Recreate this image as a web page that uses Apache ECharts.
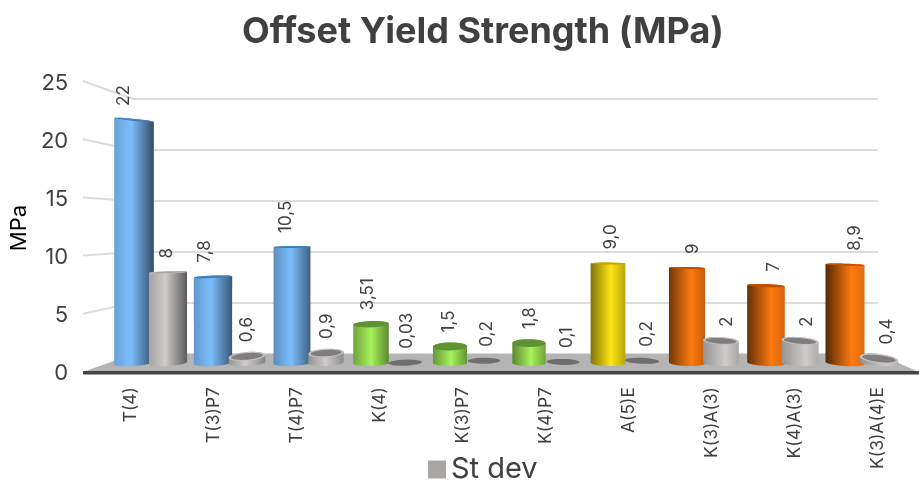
<!DOCTYPE html>
<html><head><meta charset="utf-8">
<style>html,body{margin:0;padding:0;background:#fff}#c{width:919px;height:484px}</style>
<script src="https://cdn.jsdelivr.net/npm/echarts@6/dist/echarts.min.js"></script>
</head><body><div id="c"></div>
<script>
const categories = ['T(4)','T(3)P7','T(4)P7','K(4)','K(3)P7','K(4)P7','A(5)E','K(3)A(3)','K(4)A(3)','K(3)A(4)E'];
const strengthValues = [22, 7.8, 10.5, 3.51, 1.5, 1.8, 9.0, 8.6, 7, 8.9];
const strengthLabels = ['22','7,8','10,5','3,51','1,5','1,8','9,0','9','7','8,9'];
const stdevValues = [8.2, 0.6, 0.9, 0.03, 0.2, 0.1, 0.2, 2, 2, 0.4];
const stdevLabels = ['8','0,6','0,9','0,03','0,2','0,1','0,2','2','2','0,4'];
const yTicks = [0, 5, 10, 15, 20, 25];

const families = ['blue','blue','blue','green','green','green','yellow','orange','orange','orange'];
const bright = {blue:'#7cbfff',green:'#a8f25a',yellow:'#ffe614',orange:'#ff7a0f',gray:'#cfcbcb'};
const capColor = {blue:'#3f7fb8',green:'#5e9233',yellow:'#c9a200',orange:'#c24e00',gray:'#c4c0c0'};
const FONT = 'Inter';
const INK = '#404040';

function shade(hex, f){
  const n = parseInt(hex.slice(1),16);
  const c = s => Math.round(((n>>s)&255)*f);
  return `rgb(${c(16)},${c(8)},${c(0)})`;
}
function ell(cx, cy, a, b, tau, t0, t1, n){
  const pts = [];
  for(let i=0;i<=n;i++){
    const t = t0+(t1-t0)*i/n;
    pts.push([cx+a*Math.cos(t)*Math.cos(tau)-b*Math.sin(t)*Math.sin(tau),
              cy+a*Math.cos(t)*Math.sin(tau)+b*Math.sin(t)*Math.cos(tau)]);
  }
  return pts;
}
function cylinder(labels, fam, shift, isGray){
  return function(params, api){
    const i = api.value(0), v = api.value(1);
    const top = api.coord([i, v]), base = api.coord([i, 0]);
    const cx = top[0]+shift, yt = top[1], yb = base[1];
    const hw = 16+Math.abs(cx-510)*0.009+(isGray?0:0.5);
    const t = Math.min(1,Math.max(0,(cx-134)/747));
    const h = 0.42+t*0.26;
    const col = bright[fam(i)];
    const tilt = y => (cx-510)*(y-230)*1.4e-4*Math.PI/180;
    const ry = Math.max(1,1+(yt-270)*0.039);
    const tt = tilt(yt), tb = tilt(yb)*0.6;
    const children = [];
    const body = ell(cx,yt,hw,ry,tt,Math.PI,2*Math.PI,14).concat(ell(cx,yb,hw,3,tb,0,Math.PI,20));
    const tiny = v<=0.25;
    const leftEdge = isGray ? (v>5 ? 0.8 : 0.72) : 0.85-0.55*t;
    const rightEdge = isGray ? (v>5 ? 0.45 : 0.62+0.25*t) : 0.4+0.5*t;
    if(!tiny){
      children.push({type:'polygon',shape:{points:body},style:{fill:{type:'linear',x:0,y:0,x2:1,y2:0,colorStops:[
        {offset:0,color:shade(col,leftEdge)},
        {offset:h,color:col},
        {offset:1,color:shade(col,rightEdge)}]}}});
    }
    const cap = capColor[fam(i)];
    if(isGray){
      if(tiny){
        children.push({type:'polygon',shape:{points:ell(cx,yt,hw,3,tt,0,2*Math.PI,32)},style:{fill:'#6f6d6d'}});
      }else{
        children.push({type:'polygon',shape:{points:ell(cx,yt,hw,ry,tt,0,2*Math.PI,32)},style:{fill:cap}});
        children.push({type:'polygon',shape:{points:ell(cx,yt,hw*0.87,ry*0.75,tt,0,2*Math.PI,32)},style:{fill:v>5?'#a8a5a5':'#7f7d7d'}});
      }
    }else{
      children.push({type:'polygon',shape:{points:ell(cx,yt,hw,ry,tt,0,2*Math.PI,32)},style:{fill:cap}});
    }
    const labelX = isGray ? cx+2+(cx-400)*0.012 : cx+1+(cx-530)*0.028;
    children.push({type:'text',x:labelX,y:yt-14,rotation:Math.PI/2,
      style:{text:labels[i],align:'left',verticalAlign:'middle',font:`17px ${FONT}`,fill:INK}});
    return {type:'group',children};
  };
}

// chart furniture: floor and the slanted side-wall lines
const fx0=83, bx0=133, bx1=878, fx1=919, fy0=372, by0=354, backStep=10.2, frontStep=11.64;
const furniture = [
  {type:'polygon',z:1,silent:true,shape:{points:[[fx0,fy0],[bx0,by0],[bx1,by0],[fx1,fy0]]},style:{fill:'#b4b4b4'}},
  {type:'rect',z:1,silent:true,shape:{x:fx0,y:fy0-1,width:fx1-fx0,height:3.5},style:{fill:'#454545'}}
].concat(yTicks.filter(v=>v>0).map(v=>({type:'line',z:1,silent:true,
  shape:{x1:fx0,y1:fy0-v*frontStep,x2:bx0,y2:by0-v*backStep},style:{stroke:'#dcdcdc',lineWidth:2}})));

const chart = echarts.init(document.getElementById('c'));
chart.setOption({
  animation:false,
  backgroundColor:'#fff',
  title:{text:'Offset Yield Strength (MPa)',left:478,textAlign:'center',top:9,
    textStyle:{fontFamily:FONT,fontSize:36,fontWeight:'bold',color:INK}},
  legend:{data:['St dev'],left:423,top:450,icon:'rect',itemWidth:18,itemHeight:18,itemGap:6,
    textStyle:{fontFamily:FONT,fontSize:29,color:INK}},
  graphic:furniture,
  grid:[
    {left:133,right:41,top:99,bottom:130},
    {left:87,right:-8,top:83,bottom:111},
    {left:111.5,width:790,top:86.75,bottom:121}
  ],
  xAxis:[
    {gridIndex:0,type:'category',data:categories,show:false},
    {gridIndex:1,type:'category',data:categories,axisLine:{show:false},axisTick:{show:false},
      axisLabel:{rotate:90,interval:0,margin:14,fontFamily:FONT,fontSize:17.5,color:INK}},
    {gridIndex:2,type:'category',data:categories,show:false}
  ],
  yAxis:[
    {gridIndex:0,type:'value',min:0,max:25,interval:5,axisLine:{show:false},axisTick:{show:false},axisLabel:{show:false},
      splitLine:{lineStyle:{color:'#dcdcdc',width:2}}},
    {gridIndex:1,type:'value',min:0,max:25,interval:5,axisLine:{show:false},axisTick:{show:false},splitLine:{show:false},
      name:'MPa',nameLocation:'middle',nameGap:55,nameTextStyle:{fontFamily:FONT,fontSize:22,color:'#000'},
      axisLabel:{margin:21,fontFamily:FONT,fontSize:22,color:INK}},
    {gridIndex:2,type:'value',min:0,max:25,interval:5,show:false}
  ],
  series:[
    {name:'Offset Yield Strength',type:'custom',xAxisIndex:2,yAxisIndex:2,z:3,
      data:strengthValues.map((v,i)=>[i,v]),encode:{x:0,y:1},itemStyle:{color:'#7cbfff'},
      renderItem:cylinder(strengthLabels,i=>families[i],-17,false)},
    {name:'St dev',type:'custom',xAxisIndex:2,yAxisIndex:2,z:4,
      data:stdevValues.map((v,i)=>[i,v]),encode:{x:0,y:1},itemStyle:{color:'#a9a5a5'},
      renderItem:cylinder(stdevLabels,()=>'gray',17,true)}
  ]
});
</script></body></html>
